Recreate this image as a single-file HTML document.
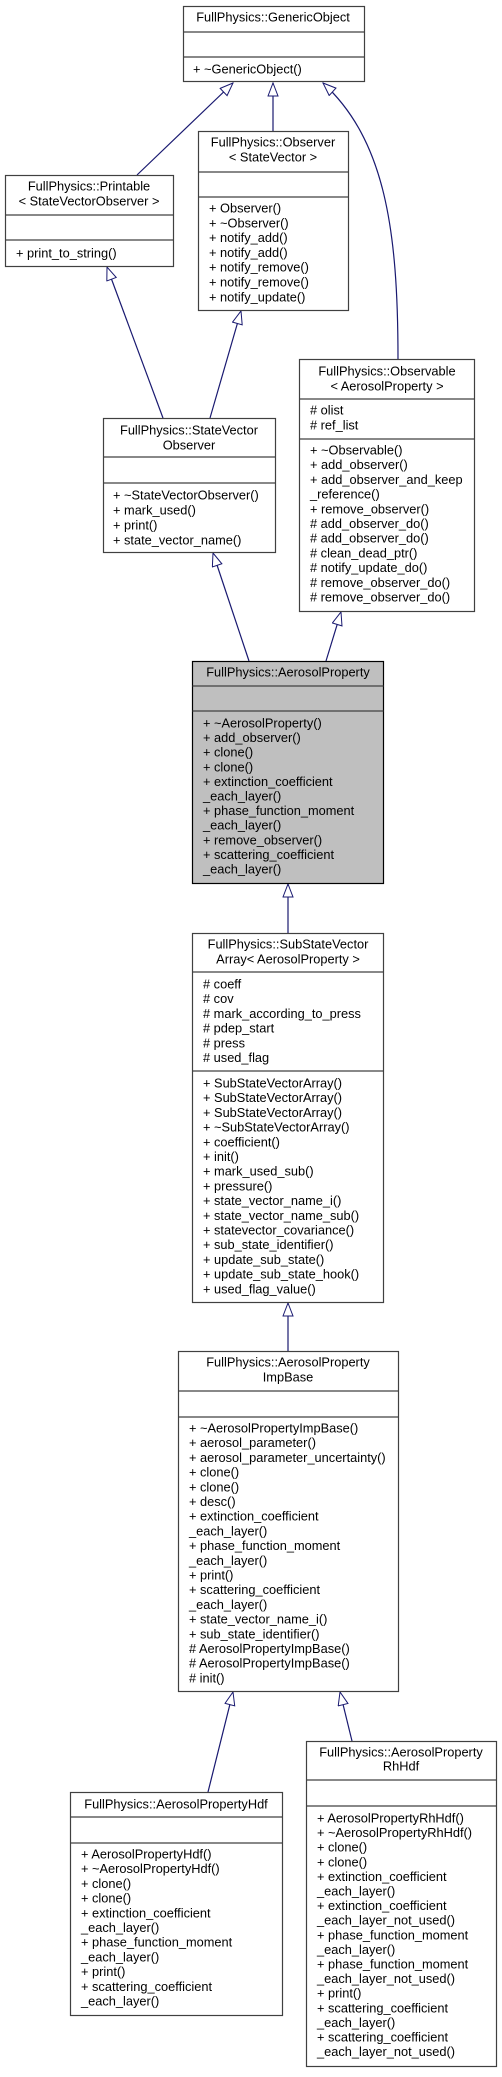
<!DOCTYPE html>
<html><head><meta charset="utf-8"><style>
html,body{margin:0;padding:0;background:#fff}
svg text{font-family:"Liberation Sans",sans-serif;font-size:12.8px;fill:#000}
</style></head><body>
<svg width="502" height="2072" xmlns="http://www.w3.org/2000/svg">
<defs><marker id="a" markerUnits="userSpaceOnUse" markerWidth="15" markerHeight="12" refX="14" refY="5.5" orient="auto"><path d="M1,0.5 L14,5.5 L1,10.5 Z" fill="#fff" stroke="#191970" stroke-width="1"/></marker></defs>
<g fill="none" stroke="#191970" stroke-width="1.2">
<path d="M137,175 L233,83" marker-end="url(#a)"/>
<path d="M273,131 L273,83" marker-end="url(#a)"/>
<path d="M398,359 C398,230 385,140 323,83" marker-end="url(#a)"/>
<path d="M163,418 L107,267" marker-end="url(#a)"/>
<path d="M210,418 L241,311" marker-end="url(#a)"/>
<path d="M249,661 L213,553" marker-end="url(#a)"/>
<path d="M326,661 L341,612" marker-end="url(#a)"/>
<path d="M288,933 L288,884" marker-end="url(#a)"/>
<path d="M288,1351 L288,1303" marker-end="url(#a)"/>
<path d="M208,1792 L233,1692" marker-end="url(#a)"/>
<path d="M352,1741 L340,1692" marker-end="url(#a)"/>
</g>
<g stroke="#404040" stroke-width="1.2" fill="#fff">
<rect x="183.5" y="6.5" width="181" height="75"/><path d="M183.5,32H364.5M183.5,57H364.5"/>
<rect x="198.5" y="131.5" width="150" height="179"/><path d="M198.5,172H348.5M198.5,197H348.5"/>
<rect x="5.5" y="175.5" width="168" height="91"/><path d="M5.5,215H173.5M5.5,240H173.5"/>
<rect x="103.5" y="418.5" width="172" height="134"/><path d="M103.5,457H275.5M103.5,483H275.5"/>
<rect x="299.5" y="359.5" width="175" height="252"/><path d="M299.5,399H474.5M299.5,439H474.5"/>
<rect x="192.5" y="661.5" width="191" height="222" fill="#bfbfbf" stroke="#000"/><path d="M192.5,686H383.5M192.5,711H383.5"/>
<rect x="192.5" y="933.5" width="191" height="369"/><path d="M192.5,972H383.5M192.5,1071H383.5"/>
<rect x="178.5" y="1351.5" width="220" height="340"/><path d="M178.5,1391H398.5M178.5,1417H398.5"/>
<rect x="70.5" y="1792.5" width="212" height="223"/><path d="M70.5,1817H282.5M70.5,1843H282.5"/>
<rect x="306.5" y="1741.5" width="190" height="325"/><path d="M306.5,1780H496.5M306.5,1806H496.5"/>
</g>
<g text-anchor="middle">
<text x="273" y="21.5">FullPhysics::GenericObject</text>
<text x="273" y="146.5">FullPhysics::Observer</text><text x="273" y="161.5">&lt; StateVector &gt;</text>
<text x="89" y="190.5">FullPhysics::Printable</text><text x="89" y="205.5">&lt; StateVectorObserver &gt;</text>
<text x="189" y="434.5">FullPhysics::StateVector</text><text x="189" y="449.5">Observer</text>
<text x="387" y="375.5">FullPhysics::Observable</text><text x="387" y="390.5">&lt; AerosolProperty &gt;</text>
<text x="288" y="676.5">FullPhysics::AerosolProperty</text>
<text x="288" y="948.5">FullPhysics::SubStateVector</text><text x="288" y="963.5">Array&lt; AerosolProperty &gt;</text>
<text x="288" y="1366.5">FullPhysics::AerosolProperty</text><text x="288" y="1381.5">ImpBase</text>
<text x="176" y="1808.5">FullPhysics::AerosolPropertyHdf</text>
<text x="401" y="1756.5">FullPhysics::AerosolProperty</text><text x="401" y="1770.5">RhHdf</text>
</g>
<text x="193" y="73.5">+ ~GenericObject()</text>
<text x="209" y="212.5">+ Observer()</text><text x="209" y="227.3">+ ~Observer()</text><text x="209" y="242.1">+ notify_add()</text><text x="209" y="256.9">+ notify_add()</text><text x="209" y="271.7">+ notify_remove()</text><text x="209" y="286.5">+ notify_remove()</text><text x="209" y="301.3">+ notify_update()</text>
<text x="16" y="257.5">+ print_to_string()</text>
<text x="113" y="499.5">+ ~StateVectorObserver()</text><text x="113" y="514.5">+ mark_used()</text><text x="113" y="529.5">+ print()</text><text x="113" y="544.5">+ state_vector_name()</text>
<text x="310" y="414.5"># olist</text><text x="310" y="429.5"># ref_list</text>
<text x="310" y="454.5">+ ~Observable()</text><text x="310" y="469.2">+ add_observer()</text><text x="310" y="483.9">+ add_observer_and_keep</text><text x="310" y="498.6">_reference()</text><text x="310" y="513.3">+ remove_observer()</text><text x="310" y="528"># add_observer_do()</text><text x="310" y="542.7"># add_observer_do()</text><text x="310" y="557.4"># clean_dead_ptr()</text><text x="310" y="572.1"># notify_update_do()</text><text x="310" y="586.8"># remove_observer_do()</text><text x="310" y="601.5"># remove_observer_do()</text>
<text x="203" y="727.5">+ ~AerosolProperty()</text><text x="203" y="742.1">+ add_observer()</text><text x="203" y="756.7">+ clone()</text><text x="203" y="771.3">+ clone()</text><text x="203" y="785.9">+ extinction_coefficient</text><text x="203" y="800.5">_each_layer()</text><text x="203" y="815.1">+ phase_function_moment</text><text x="203" y="829.7">_each_layer()</text><text x="203" y="844.3">+ remove_observer()</text><text x="203" y="858.9">+ scattering_coefficient</text><text x="203" y="873.5">_each_layer()</text>
<text x="203" y="988.5"># coeff</text><text x="203" y="1003.2"># cov</text><text x="203" y="1017.9"># mark_according_to_press</text><text x="203" y="1032.6"># pdep_start</text><text x="203" y="1047.3"># press</text><text x="203" y="1062"># used_flag</text>
<text x="203" y="1087.5">+ SubStateVectorArray()</text><text x="203" y="1102.2">+ SubStateVectorArray()</text><text x="203" y="1116.9">+ SubStateVectorArray()</text><text x="203" y="1131.6">+ ~SubStateVectorArray()</text><text x="203" y="1146.3">+ coefficient()</text><text x="203" y="1161">+ init()</text><text x="203" y="1175.7">+ mark_used_sub()</text><text x="203" y="1190.4">+ pressure()</text><text x="203" y="1205.1">+ state_vector_name_i()</text><text x="203" y="1219.8">+ state_vector_name_sub()</text><text x="203" y="1234.5">+ statevector_covariance()</text><text x="203" y="1249.2">+ sub_state_identifier()</text><text x="203" y="1263.9">+ update_sub_state()</text><text x="203" y="1278.6">+ update_sub_state_hook()</text><text x="203" y="1293.3">+ used_flag_value()</text>
<text x="189" y="1432.5">+ ~AerosolPropertyImpBase()</text><text x="189" y="1447.2">+ aerosol_parameter()</text><text x="189" y="1461.9">+ aerosol_parameter_uncertainty()</text><text x="189" y="1476.6">+ clone()</text><text x="189" y="1491.3">+ clone()</text><text x="189" y="1506">+ desc()</text><text x="189" y="1520.7">+ extinction_coefficient</text><text x="189" y="1535.4">_each_layer()</text><text x="189" y="1550.1">+ phase_function_moment</text><text x="189" y="1564.8">_each_layer()</text><text x="189" y="1579.5">+ print()</text><text x="189" y="1594.2">+ scattering_coefficient</text><text x="189" y="1608.9">_each_layer()</text><text x="189" y="1623.6">+ state_vector_name_i()</text><text x="189" y="1638.3">+ sub_state_identifier()</text><text x="189" y="1653"># AerosolPropertyImpBase()</text><text x="189" y="1667.7"># AerosolPropertyImpBase()</text><text x="189" y="1682.4"># init()</text>
<text x="81" y="1858.5">+ AerosolPropertyHdf()</text><text x="81" y="1873.2">+ ~AerosolPropertyHdf()</text><text x="81" y="1887.9">+ clone()</text><text x="81" y="1902.6">+ clone()</text><text x="81" y="1917.3">+ extinction_coefficient</text><text x="81" y="1932">_each_layer()</text><text x="81" y="1946.7">+ phase_function_moment</text><text x="81" y="1961.4">_each_layer()</text><text x="81" y="1976.1">+ print()</text><text x="81" y="1990.8">+ scattering_coefficient</text><text x="81" y="2005.5">_each_layer()</text>
<text x="317" y="1822.5">+ AerosolPropertyRhHdf()</text><text x="317" y="1837.1">+ ~AerosolPropertyRhHdf()</text><text x="317" y="1851.7">+ clone()</text><text x="317" y="1866.3">+ clone()</text><text x="317" y="1880.9">+ extinction_coefficient</text><text x="317" y="1895.5">_each_layer()</text><text x="317" y="1910.1">+ extinction_coefficient</text><text x="317" y="1924.7">_each_layer_not_used()</text><text x="317" y="1939.3">+ phase_function_moment</text><text x="317" y="1953.9">_each_layer()</text><text x="317" y="1968.5">+ phase_function_moment</text><text x="317" y="1983.1">_each_layer_not_used()</text><text x="317" y="1997.7">+ print()</text><text x="317" y="2012.3">+ scattering_coefficient</text><text x="317" y="2026.9">_each_layer()</text><text x="317" y="2041.5">+ scattering_coefficient</text><text x="317" y="2056.1">_each_layer_not_used()</text>
</svg>
</body></html>
